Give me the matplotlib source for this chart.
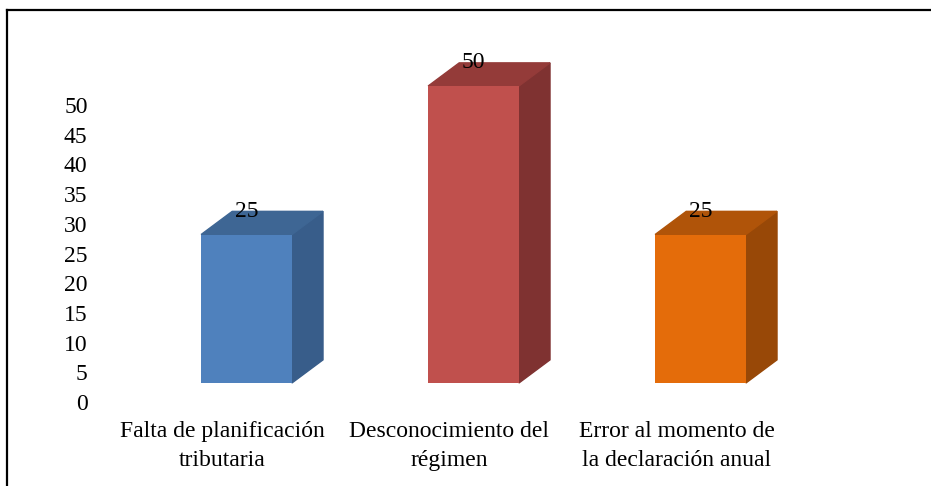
import matplotlib.pyplot as plt
from matplotlib.patches import Polygon
from matplotlib.lines import Line2D

# datos del grafico
categorias = ["Falta de planificación\ntributaria",
              "Desconocimiento del\nrégimen",
              "Error al momento de\nla declaración anual"]
valores = [25, 50, 25]
frente = ["#4F81BD", "#C0504D", "#E46C0A"]
lado = ["#385D8A", "#7F3231", "#984807"]
techo = ["#3E6694", "#943B39", "#B05409"]

plt.rcParams['font.family'] = ['Liberation Serif', 'DejaVu Serif']

fig = plt.figure(figsize=(9.31, 4.86), dpi=100)
ax = fig.add_axes([0.0941, 0.1728, 0.8534, 0.7333])

ancho = 0.4
base = 3.2      # desplazamiento del piso 3D
dx, dy = 0.137, 3.9   # profundidad

x = list(range(len(valores)))
ax.bar(x, valores, width=ancho, bottom=base, color=frente, zorder=3)
for i, v in enumerate(valores):
    x0 = i - ancho / 2
    x1 = i + ancho / 2
    y0 = base
    y1 = base + v
    ax.add_patch(Polygon([(x1, y0), (x1 + dx, y0 + dy), (x1 + dx, y1 + dy), (x1, y1)],
                         closed=True, color=lado[i], zorder=2, clip_on=False))
    ax.add_patch(Polygon([(x0, y1), (x1, y1), (x1 + dx, y1 + dy), (x0 + dx, y1 + dy)],
                         closed=True, color=techo[i], zorder=2, clip_on=False))
    ax.text(i, y1 + dy, str(v), ha='center', va='center', fontsize=17, zorder=4)

ax.set_xlim(-0.7, 2.8)
ax.set_ylim(0, 60)
ax.set_yticks(range(0, 55, 5))
ax.set_xticks([i - 0.106 for i in x])
ax.set_xticklabels(categorias, fontsize=17, linespacing=1.45)
ax.tick_params(axis='y', length=0, pad=0, labelsize=17)
ax.tick_params(axis='x', length=0, pad=14)
for s in ax.spines.values():
    s.set_visible(False)

# borde del recuadro
fig.add_artist(Line2D([0.0075, 1.0], [0.980, 0.980], transform=fig.transFigure, color='black', lw=1.6))
fig.add_artist(Line2D([0.0075, 0.0075], [0.0, 0.980], transform=fig.transFigure, color='black', lw=1.6))

plt.savefig("out.png", dpi=100)
